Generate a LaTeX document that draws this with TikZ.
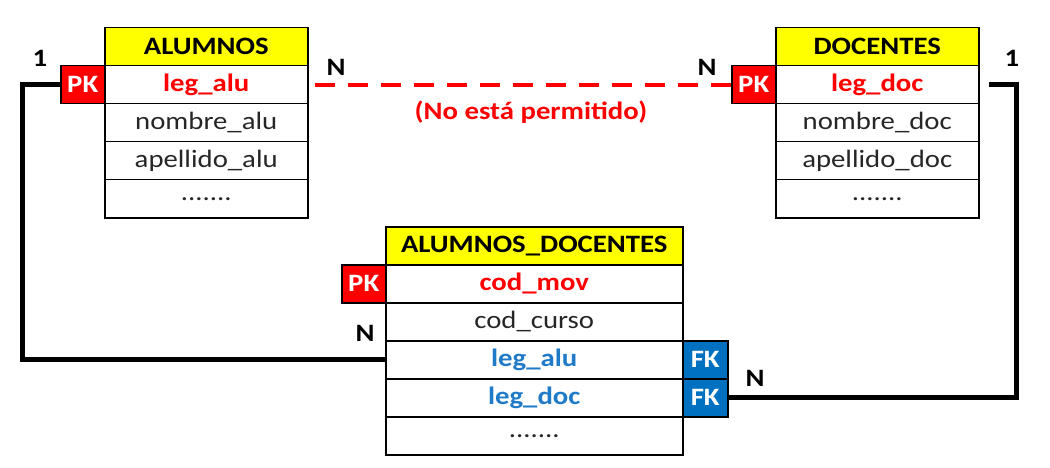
\documentclass[tikz,border=0pt]{standalone}
\usepackage{fontspec}
\setmainfont[FakeStretch=1.15]{Carlito}
\definecolor{hdr}{HTML}{FFFF00}
\definecolor{pkred}{HTML}{FF0000}
\definecolor{fkblue}{HTML}{0070C0}
\definecolor{bluetxt}{HTML}{1F7BC8}
\definecolor{txtgray}{HTML}{262626}
\begin{document}
\begin{tikzpicture}[x=1pt,y=-1pt,
  cell/.style={draw=black, line width=1.5pt, minimum width=#1, minimum height=38pt,
    inner sep=0pt, anchor=north west, font=\fontsize{25}{28}\selectfont, text=txtgray},
  head/.style={cell=#1, fill=hdr, text=black, font=\fontsize{25}{28}\selectfont\bfseries},
  keyred/.style={cell=#1, text=pkred, font=\fontsize{25}{28}\selectfont\bfseries},
  keyblue/.style={cell=#1, text=bluetxt, font=\fontsize{25}{28}\selectfont\bfseries},
  pkbox/.style={cell=44pt, fill=pkred, text=white, font=\fontsize{25}{28}\selectfont\bfseries},
  fkbox/.style={cell=45pt, fill=fkblue, text=white, font=\fontsize{25}{28}\selectfont\bfseries},
  card/.style={font=\fontsize{25}{28}\selectfont\bfseries, text=black, inner sep=0pt},
  conn/.style={line width=5pt, black},
  forbidden/.style={line width=4pt, pkred, dash pattern=on 20pt off 13pt}]
\useasboundingbox (0,0) rectangle (1050,468);
% ALUMNOS
\node[head=203pt]  (aluh)   at (104,27)  {ALUMNOS};
\node[keyred=203pt] (aluleg) at (104,65)  {leg\_alu};
\node[cell=203pt]  (alunom) at (104,103) {nombre\_alu};
\node[cell=203pt]  (aluape) at (104,141) {apellido\_alu};
\node[cell=203pt]  (aludot) at (104,179) {.......};
\node[pkbox]       (pkalu)  at (60,65)   {PK};
% DOCENTES
\node[head=203pt]  (doch)   at (775,27)  {DOCENTES};
\node[keyred=203pt] (docleg) at (775,65)  {leg\_doc};
\node[cell=203pt]  (docnom) at (775,103) {nombre\_doc};
\node[cell=203pt]  (docape) at (775,141) {apellido\_doc};
\node[cell=203pt]  (docdot) at (775,179) {.......};
\node[pkbox]       (pkdoc)  at (731,65)  {PK};
% ALUMNOS_DOCENTES
\node[head=297pt]   (adh)     at (385,226) {ALUMNOS\_DOCENTES};
\node[keyred=297pt] (adcod)   at (385,264) {cod\_mov};
\node[cell=297pt]   (adcur)   at (385,302) {cod\_curso};
\node[keyblue=297pt] (adalu)  at (385,340) {leg\_alu};
\node[keyblue=297pt] (addoc)  at (385,378) {leg\_doc};
\node[cell=297pt]   (addot)   at (385,416) {.......};
\node[pkbox]        (pkad)    at (341,264) {PK};
\node[fkbox]        (fkalu)   at (682,340) {FK};
\node[fkbox]        (fkdoc)   at (682,378) {FK};
% cardinalities
\node[card] (c1a) at (40,58)   {1};
\node[card] (c1d) at (1012,58) {1};
\node[card] (cna) at (336,67)  {N};
\node[card] (cnd) at (707,67)  {N};
\node[card] (cnl) at (365,333) {N};
\node[card] (cnr) at (755,378) {N};
% connectors
\draw[conn] (pkalu.west) -- ++(-38,0) |- (adalu.west);
\draw[conn] ([xshift=9pt]docleg.east) -- ++(28,0) |- (fkdoc.east);
\draw[forbidden] ([xshift=6pt]aluleg.east) -- (pkdoc.west);
\node[font=\fontsize{25}{28}\selectfont\bfseries, text=pkred] (nope) at (531,112) {(No está permitido)};
\end{tikzpicture}
\end{document}
